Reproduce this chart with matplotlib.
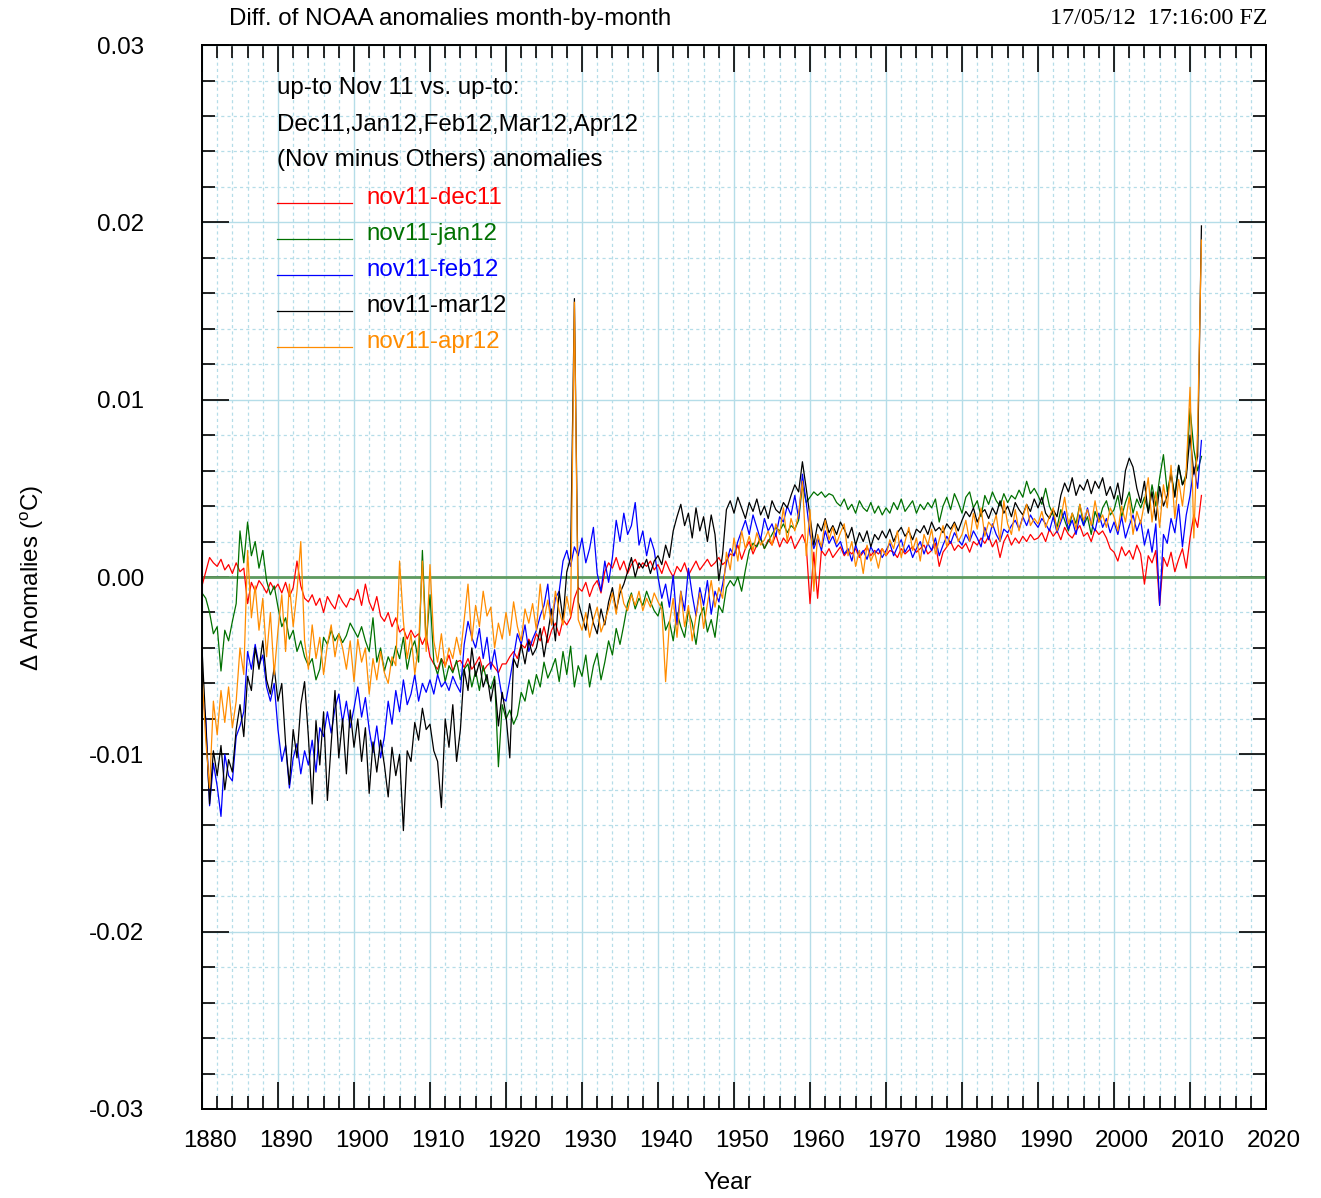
import numpy as np
import matplotlib.pyplot as plt
from matplotlib.ticker import MultipleLocator
from matplotlib.transforms import ScaledTranslation
from matplotlib.legend_handler import HandlerLine2D

plt.rcParams['font.family'] = ['Liberation Sans', 'DejaVu Sans']
plt.rcParams['mathtext.fontset'] = 'custom'
plt.rcParams['mathtext.rm'] = 'Liberation Sans'
plt.rcParams['axes.unicode_minus'] = False

# half-year steps, values in 0.001 deg C
years = np.arange(1880, 2012, 0.5)

nov11_dec11 = [
    -0.5, 0.3, 1.1, 0.8, 0.6, 1.0, 0.4, 0.7, 0.2, 0.8, 0.3, 0.5, -1.5, -0.3, -0.8, -0.2, -0.5, -0.9, -0.3, -0.7,
    -0.4, -0.9, -0.3, -1.1, -0.6, 0.9, -0.5, -1.2, -1.4, -1.0, -1.6, -1.2, -2.0, -1.1, -1.5, -1.8, -1.0, -1.4, -1.7, -1.2,
    -1.3, -0.7, -1.6, -0.4, -1.4, -1.9, -1.1, -2.2, -2.5, -2.0, -2.8, -2.3, -3.1, -2.9, -3.5, -3.0, -3.4, -3.2, -3.8, -3.3,
    -4.5, -4.9, -5.2, -4.6, -5.0, -4.4, -5.3, -4.8, -4.7, -5.1, -4.6, -5.2, -4.9, -4.5, -5.3, -5.0, -4.8, -5.1, -5.4, -4.9,
    -4.9, -4.5, -4.2, -4.6, -3.8, -4.0, -3.5, -3.9, -3.2, -3.6, -2.8, -3.7, -3.0, -2.6, -3.3, -2.4, -2.7, -2.3, -1.2, -0.6,
    -0.8, -0.3, -1.1, -0.5, -0.2, -0.9, 0.3, 0.8, 0.5, 1.1, 0.4, 0.9, 0.2, 0.7, 1.0, 0.5, 0.8, 0.6, 0.9, 0.4,
    0.7, 0.2, 0.9, 0.4, 0.0, 0.6, 0.3, 0.8, 0.1, 0.5, 0.9, 0.4, 0.7, 1.0, 0.6, 0.8, 1.1, 0.7, 0.9, 1.3,
    1.2, 1.8, 1.0, 1.6, 2.0, 1.3, 1.8, 2.2, 1.6, 2.1, 1.8, 2.4, 1.7, 2.2, 1.9, 2.3, 1.6, 2.0, 2.4, 1.8,
    -1.5, 1.4, -1.2, 1.5, 1.2, 1.6, 1.1, 1.4, 1.7, 1.2, 1.5, 1.3, 1.6, 1.1, 1.4, 1.7, 1.2, 1.5, 1.3, 1.6,
    1.2, 1.5, 1.4, 1.1, 1.6, 1.3, 1.5, 1.7, 1.4, 1.6, 1.8, 1.3, 1.5, 1.9, 0.6, 1.4, 1.7, 2.0, 1.5, 1.8,
    1.6, 1.9, 1.4, 2.0, 1.8, 2.2, 1.9, 2.3, 1.7, 2.1, 1.1, 2.0, 2.4, 1.8, 2.2, 1.9, 2.3, 2.0, 2.4, 2.1,
    2.2, 2.5, 2.0, 2.7, 2.3, 2.6, 2.1, 2.8, 2.4, 2.2, 2.6, 2.9, 2.3, 2.5, 2.0, 2.7, 2.4, 2.6, 2.2, 1.6,
    1.4, 0.9, 1.7, 1.2, 1.5, 1.0, 1.8, 1.3, -0.4, 1.2, 0.8, 1.5, -1.6, 1.1, 0.6, 1.4, 0.3, 1.0, 1.6, 0.5,
    2.2, 3.5, 2.8, 4.6,
]

nov11_jan12 = [
    -0.9, -1.2, -2.0, -3.2, -2.8, -5.3, -3.0, -3.6, -2.5, -1.5, 2.6, 0.8, 3.1, 1.2, 2.0, 0.5, 1.5, -0.2, -1.0, -0.5,
    -1.7, -2.8, -2.3, -3.5, -3.0, -4.2, -3.6, -4.5, -5.0, -4.6, -5.8, -5.2, -3.4, -3.8, -3.0, -3.6, -3.2, -3.7, -3.3, -2.6,
    -3.0, -3.4, -2.8, -3.6, -4.2, -2.3, -4.8, -4.0, -5.3, -4.5, -5.0, -3.9, -4.6, -3.4, -5.2, -4.1, -3.6, -4.8, 1.5, -3.8,
    -1.0, -4.8, -5.5, -4.6, -5.9, -5.0, -5.4, -4.7, -5.8, -5.2, -4.9, -6.2, -5.3, -6.4, -5.0, -5.9, -6.3, -5.6, -10.7, -7.2,
    -8.0, -7.5, -8.3, -7.8, -6.5, -7.0, -5.8, -6.6, -5.5, -6.2, -4.8, -5.7, -5.2, -4.6, -5.9, -4.2, -5.5, -3.9, -6.2, -5.0,
    -5.6, -4.4, -6.2, -5.0, -4.3, -5.8, -4.8, -3.6, -4.4, -2.9, -3.8, -2.7, -1.5, -0.9, -1.8, -1.2, -1.6, -0.8, -1.4, -1.9,
    -2.2, -1.4, -3.0, -2.5, -3.6, -2.0, -2.8, -3.4, -1.9, -2.6, -3.8, -2.2, -1.7, -3.1, -2.4, -3.4, -1.6, -2.0, -0.6, -0.2,
    -0.5, 0.0, -0.8, 0.4, 1.5, 1.9, 1.7, 2.2, 1.6, 2.0, 2.4, 2.8, 2.6, 3.0, 2.5, 2.9, 2.7, 3.2, 5.2, 4.2,
    4.5, 4.8, 4.6, 4.8, 4.5, 4.7, 4.6, 4.2, 4.0, 4.4, 3.8, 4.1, 3.6, 4.3, 3.9, 3.7, 4.2, 3.6, 4.0, 3.5,
    3.9, 3.6, 4.2, 3.8, 4.4, 3.7, 4.0, 4.3, 3.6, 4.1, 3.8, 4.2, 3.9, 4.4, 3.1, 4.0, 4.5, 3.8, 4.7, 4.2,
    3.6, 4.5, 4.8, 3.9, 4.3, 3.4, 4.6, 4.1, 4.8, 4.3, 4.0, 4.7, 4.2, 4.6, 4.4, 4.9, 4.5, 5.4, 4.7, 5.0,
    4.6, 4.1, 5.0, 4.0, 3.5, 2.8, 3.8, 3.2, 2.6, 3.6, 3.0, 4.1, 2.9, 3.4, 2.4, 3.7, 3.1, 3.9, 4.3, 3.5,
    3.8, 4.6, 3.4, 4.2, 4.8, 3.6, 4.4, 3.9, 4.5, 3.7, 5.2, 4.0, 5.6, 6.9, 4.8, 5.9, 4.6, 6.3, 5.2, 5.8,
    9.5, 7.2, 6.0, 6.8,
]

nov11_feb12 = [
    -6.4, -8.0, -12.9, -10.5, -11.8, -13.5, -10.0, -11.2, -11.5, -9.0, -8.4, -7.6, -4.2, -5.2, -3.8, -5.0, -4.4, -6.2, -7.0, -6.0,
    -8.6, -10.4, -9.5, -11.9, -10.2, -9.4, -11.1, -9.8, -10.6, -9.2, -11.0, -8.5, -9.0, -7.6, -8.8, -7.4, -6.6, -8.2, -7.0, -8.5,
    -7.4, -6.2, -7.9, -6.8, -8.6, -9.9, -8.4, -10.2, -9.0, -7.0, -8.3, -6.4, -7.6, -5.8, -7.2, -6.6, -5.5, -7.0, -6.0, -6.5,
    -5.8, -6.6, -5.5, -6.2, -5.9, -6.4, -5.6, -6.1, -6.5, -3.8, -2.5, -3.4, -4.0, -2.9, -4.6, -3.4, -5.2, -4.1, -5.5, -6.8,
    -7.0, -5.8, -4.5, -3.2, -3.8, -2.7, -4.2, -3.5, -3.0, -2.2, -1.6, -0.4, -2.7, -1.2, -0.8, 0.9, 1.5, 0.6, 1.7, 1.2,
    2.2, 0.8, 1.6, 2.8, 0.2, -0.8, 0.9, -0.3, 1.1, 3.2, 2.0, 3.6, 2.4, 2.9, 4.2, 1.8, 2.6, 1.2, 2.2, 1.5,
    0.0, -1.2, -0.4, -1.7, 0.1, -2.7, -0.8, -1.9, 0.5, -1.0, -2.2, -0.6, -1.6, -0.2, -2.1, -0.8, -1.4, -0.4, 0.8, 1.6,
    1.2, 2.0, 2.6, 3.2, 2.4, 3.5, 2.8, 2.1, 3.3, 2.6, 3.0, 2.3, 3.4, 3.1, 4.0, 3.5, 4.6, 3.3, 5.8, 4.2,
    2.4, 1.6, 2.2, 1.5, 2.6, 1.9, 2.3, 1.7, 2.0, 1.3, 1.6, 0.9, 1.8, 1.2, 1.5, 1.0, 1.7, 1.3, 1.6, 1.1,
    1.5, 1.9, 1.2, 1.7, 2.1, 1.4, 1.8, 1.1, 1.6, 2.0, 1.3, 1.9, 1.5, 2.2, 1.2, 1.8, 2.3, 1.9, 2.5, 2.1,
    1.8, 2.4, 2.0, 2.6, 2.2, 1.7, 2.8, 2.1, 3.0, 2.4, 2.0, 2.7, 2.5, 2.9, 3.2, 2.7, 3.4, 2.9, 3.5, 3.1,
    2.8, 3.3, 3.0, 2.6, 3.4, 2.5, 3.1, 3.7, 2.7, 3.2, 2.4, 3.5, 2.9, 3.9, 3.0, 2.6, 3.6, 2.8, 3.3, 2.5,
    3.1, 2.4, 3.4, 2.2, 2.9, 3.5, 2.6, 3.2, 1.8, 2.7, 1.4, 3.0, -1.6, 2.4, 1.9, 3.3, 2.5, 4.1, 1.7, 3.5,
    4.6, 6.2, 5.0, 7.7,
]

nov11_mar12 = [
    -4.0, -8.3, -12.8, -9.8, -11.2, -9.5, -12.0, -10.3, -11.0, -8.6, -7.2, -9.0, -5.6, -6.4, -4.0, -5.2, -3.6, -5.8, -6.6, -5.1,
    -7.0, -6.0, -9.4, -11.7, -8.6, -10.2, -7.2, -5.9, -9.0, -12.8, -8.1, -10.6, -7.6, -12.6, -9.4, -6.4, -10.2, -8.0, -11.1, -7.5,
    -9.6, -8.0, -10.4, -8.5, -12.2, -9.3, -11.0, -9.2, -10.6, -12.4, -9.6, -11.2, -10.0, -14.3, -9.8, -10.4, -8.2, -9.2, -7.4, -8.6,
    -8.3, -9.8, -10.4, -13.0, -8.0, -9.6, -7.2, -10.4, -8.6, -5.2, -6.4, -4.0, -5.6, -4.8, -6.2, -5.5, -7.0, -5.8, -8.4, -6.5,
    -7.8, -10.2, -4.6, -5.1, -3.8, -4.9, -3.6, -4.4, -4.0, -2.9, -4.5, -3.2, -1.8, -3.6, -0.8, -2.4, 0.3, 1.1, 15.7, -1.4,
    -2.2, -3.0, -1.5, -2.6, -3.2, -1.8, -2.7, -1.4, -0.6, -1.9, -0.9, -0.4, 0.3, 1.1, 0.0, 0.8, 0.5, 1.0, 0.2, 0.9,
    1.2, 0.7, 1.8, 1.1, 2.6, 3.4, 4.1, 2.9, 3.6, 2.2, 3.9, 2.6, 3.4, 2.0, 3.5, 2.4, -0.2, 1.3, 3.8, 4.3,
    3.6, 4.5, 3.9, 3.3, 4.2, 3.7, 4.4, 3.5, 4.0, 3.3, 4.3, 3.8, 3.6, 4.2, 3.9, 4.6, 5.2, 4.8, 6.5, 5.0,
    3.4, 1.8, 3.0, 2.6, 3.3, 2.5, 2.9, 2.4, 3.1, 2.7, 2.2, 2.8, 1.8, 2.5, 2.0, 2.6, 1.7, 2.4, 2.1, 2.6,
    2.2, 2.7, 2.0, 2.5, 2.8, 2.3, 2.6, 2.1, 2.7, 2.5, 2.9, 2.4, 3.1, 2.6, 2.8, 2.5, 3.0, 2.7, 3.1, 2.6,
    3.2, 3.7, 3.4, 3.9, 3.1, 3.6, 3.8, 3.3, 3.9, 3.5, 4.3, 3.6, 4.0, 3.4, 4.2, 3.8, 3.5, 4.1, 3.7, 4.4,
    3.9, 4.5, 3.6, 3.3, 3.8, 3.4, 4.6, 5.3, 4.8, 5.6, 4.6, 5.2, 4.9, 5.5, 4.7, 5.4, 5.0, 5.6, 4.6, 5.1,
    4.4, 5.3, 4.1, 6.0, 6.7, 6.2, 5.0, 4.2, 5.4, 3.6, 4.8, 3.2, 5.1, 4.0, 4.6, 5.8, 4.5, 6.3, 5.2, 5.6,
    8.0, 5.8, 6.8, 19.8,
]

nov11_apr12 = [
    -5.5, -9.2, -11.9, -7.0, -8.9, -6.4, -8.2, -6.2, -8.5, -7.0, -4.0, -5.5, 1.5, -2.3, -0.5, -3.0, -1.2, -4.5, -2.0, -5.5,
    -3.0, -1.0, -4.2, -0.4, -2.8, -0.8, 2.0, -3.6, -5.2, -2.7, -4.6, -3.4, -5.5, -3.8, -2.7, -4.5, -3.2, -4.0, -5.2, -3.6,
    -5.9, -3.5, -4.8, -4.0, -6.6, -4.6, -5.8, -4.2, -5.4, -6.0, -4.5, -5.0, 0.9, -2.5, -4.6, -3.2, -5.5, -3.8, 0.9, -4.2,
    0.7, -3.6, -4.8, -3.2, -5.1, -4.0, -4.6, -3.4, -4.4, -2.4, -0.4, -3.6, -1.6, -2.8, -0.8, -2.2, -1.7, -4.0, -2.6, -3.5,
    -2.0, -3.3, -1.4, -2.8, -3.6, -1.8, -2.6, -1.5, -3.0, -0.4, -2.4, -1.3, -2.7, -0.8, -1.9, -2.7, -1.1, -2.2, 15.5, -2.4,
    -3.0, -2.0, -3.4, -2.4, -1.7, -3.1, -2.5, -1.8, -0.9, -2.1, -0.4, -1.5, -1.9, -1.0, -1.6, -0.8, -1.9, -1.2, -1.7, -0.9,
    -1.4, -1.8, -5.9, -2.6, -1.2, -3.4, -0.8, -2.8, -1.6, -3.6, -2.2, -0.9, -2.9, -1.5, -0.2, -1.7, -0.6, -1.2, 1.4, 0.4,
    2.2, 0.9, 2.6, 1.6, 2.3, 1.5, 2.5, 1.8, 2.1, 2.6, 1.8, 3.0, 2.4, 3.9, 2.0, 3.3, 2.6, 3.6, 5.4, 1.2,
    3.8, -0.8, 2.4, 1.7, 3.2, 2.1, 2.8, 1.9, 2.5, 3.0, 1.2, 2.0, 0.6, 1.5, 0.2, 1.8, 0.9, 1.4, 0.5, 1.6,
    1.2, 2.1, 1.6, 2.6, 1.1, 2.0, 2.8, 1.5, 2.2, 0.9, 2.4, 1.8, 2.7, 1.3, 2.1, 2.9, 1.7, 2.5, 3.0, 2.0,
    2.4, 3.2, 2.0, 3.6, 2.7, 3.9, 2.3, 3.1, 2.8, 3.5, 2.0, 4.3, 3.0, 2.4, 3.8, 2.6, 3.4, 4.1, 2.9, 3.3,
    3.0, 3.7, 2.8, 3.4, 3.9, 2.6, 3.3, 4.5, 3.0, 3.6, 2.7, 4.1, 3.2, 3.8, 2.9, 4.3, 3.1, 3.5, 2.8, 3.9,
    3.4, 2.6, 4.0, 3.1, 4.5, 2.4, 3.7, 3.0, 4.2, 5.6, 3.1, 4.8, 2.8, 5.2, 3.9, 6.3, 3.3, 5.5, 4.0, 6.0,
    10.7, 2.2, 8.4, 19.0,
]

series_names = ['nov11-dec11', 'nov11-jan12', 'nov11-feb12', 'nov11-mar12', 'nov11-apr12']
series_colors = ['#ff0000', '#007000', '#0000ff', '#000000', '#ff8c00']
series_vals = [nov11_dec11, nov11_jan12, nov11_feb12, nov11_mar12, nov11_apr12]

ytick_vals = [-0.03, -0.02, -0.01, 0.0, 0.01, 0.02, 0.03]
ytick_labels = ['-0.03', '-0.02', '-0.01', '0.00', '0.01', '0.02', '0.03']
xtick_vals = list(range(1880, 2021, 10))

FS = 17.4


class LowLine(HandlerLine2D):
    # legend key drawn a little below the text middle, like the original
    def create_artists(self, legend, orig_handle, xdescent, ydescent, width, height, fontsize, trans):
        arts = super().create_artists(legend, orig_handle, xdescent, ydescent, width, height, fontsize, trans)
        for a in arts:
            a.set_ydata(np.asarray(a.get_ydata()) - 0.33 * fontsize)
        return arts


fig = plt.figure(figsize=(13.21, 11.98), dpi=100)
ax = fig.add_axes([0.1529, 0.0743, 0.8055, 0.8881])

handles = []
for name, col, vals in zip(series_names, series_colors, series_vals):
    h, = ax.plot(years, np.array(vals) * 1e-3, color=col, lw=0.9, label=name)
    handles.append(h)

ax.axhline(0, color='#5f9a5f', lw=2, zorder=1.5)

ax.set_xlim(1880, 2020)
ax.set_ylim(-0.03, 0.03)
ax.set_xticks(xtick_vals)
ax.xaxis.set_minor_locator(MultipleLocator(2))
ax.set_yticks(ytick_vals)
ax.set_yticklabels(ytick_labels)
ax.yaxis.set_minor_locator(MultipleLocator(0.002))

ax.set_axisbelow(True)
ax.grid(which='major', color='#b5dde8', lw=1.0, ls='-')
ax.grid(which='minor', color='#b5dde8', lw=0.9, ls=(0, (2.5, 2.5)))

ax.tick_params(which='both', direction='in', top=True, right=True, width=1.2,
               labelsize=FS, color='black')
ax.tick_params(which='major', length=19.5)
ax.tick_params(which='minor', length=9.5)
ax.tick_params(axis='y', pad=42)
ax.tick_params(axis='x', pad=15)
for s in ax.spines.values():
    s.set_linewidth(1.4)

shift = ScaledTranslation(0.08, 0, fig.dpi_scale_trans)
for lab in ax.get_xticklabels():
    lab.set_transform(lab.get_transform() + shift)

# legend block
ax.text(0.0705, 0.9596, 'up-to Nov 11 vs. up-to:', transform=ax.transAxes, fontsize=FS, va='center')
ax.text(0.0705, 0.9248, 'Dec11,Jan12,Feb12,Mar12,Apr12', transform=ax.transAxes, fontsize=FS, va='center')
ax.text(0.0705, 0.8919, '(Nov minus Others) anomalies', transform=ax.transAxes, fontsize=FS, va='center')
ax.legend(handles=handles, loc='upper left', bbox_to_anchor=(0.0705, 0.867), frameon=False,
          fontsize=FS, handlelength=3.1, handletextpad=0.6, labelspacing=0.58,
          borderpad=0, borderaxespad=0, labelcolor='linecolor',
          handler_map={h: LowLine() for h in handles})

fig.text(229 / 1321, 1 - 19 / 1198, 'Diff. of NOAA anomalies month-by-month', fontsize=FS, va='center')
fig.text(1268 / 1321, 1 - 19 / 1198, '17/05/12  17:16:00 FZ', fontsize=FS, va='center', ha='right',
         family=['Liberation Serif', 'DejaVu Serif'])
fig.text(728 / 1321, 1 - 1183 / 1198, 'Year', fontsize=FS, va='center', ha='center')
fig.text(32 / 1321, 0.518, r'$\Delta$ Anomalies ($^{\rm o}$C)', fontsize=FS, va='center', ha='center', rotation=90)

fig.savefig('out.png', dpi=100)
